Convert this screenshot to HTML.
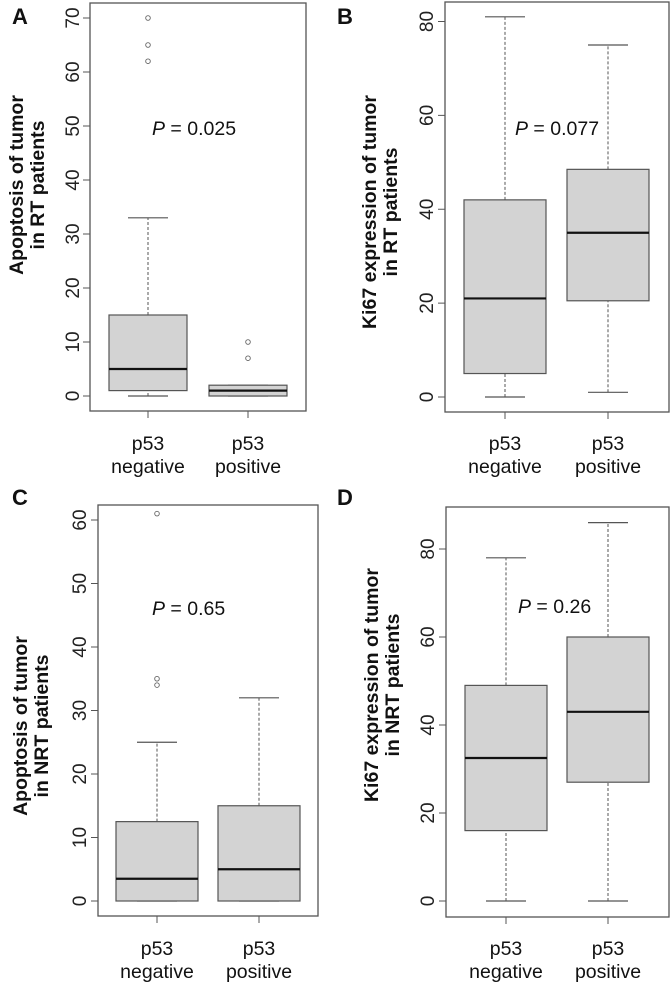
<!DOCTYPE html>
<html><head><meta charset="utf-8"><style>
html,body{margin:0;padding:0;background:#fff;}
svg{display:block;font-family:"Liberation Sans",Arial,sans-serif;}
</style></head><body>
<svg id="fig" width="671" height="986" viewBox="0 0 671 986"></svg>
<script>
const categories = ["p53 negative","p53 positive"];
const panelLetters = ["A","B","C","D"];
const panelTitles = [["Apoptosis of tumor","in RT patients"],["Ki67 expression of tumor","in RT patients"],["Apoptosis of tumor","in NRT patients"],["Ki67 expression of tumor","in NRT patients"]];
const pLabels = ["0.025","0.077","0.65","0.26"];
const ticksA = [0,10,20,30,40,50,60,70];
const ticksB = [0,20,40,60,80];
const ticksC = [0,10,20,30,40,50,60];
const ticksD = [0,20,40,60,80];
// [min, q1, median, q3, max]
const statsA = [[0,1,5,15,33],[0,0,1,2,2]];
const statsB = [[0,5,21,42,81],[1,20.5,35,48.5,75]];
const statsC = [[0,0,3.5,12.5,25],[0,0,5,15,32]];
const statsD = [[0,16,32.5,49,78],[0,27,43,60,86]];
const outliersA = [[62,65,70],[7,10]];
const outliersB = [[],[]];
const outliersC = [[34,35,61],[]];
const outliersD = [[],[]];

const NS="http://www.w3.org/2000/svg";
const svg=document.getElementById('fig');
function mk(tag,attrs,parent){const e=document.createElementNS(NS,tag);for(const k in attrs)e.setAttribute(k,attrs[k]);(parent||svg).appendChild(e);return e;}

const layouts=[
 {bx:90,by:3,bw:216,bh:408,y0:396,ymax:70,ymaxPx:18,cx:[148,248],hw:39,tickX:79,titleX:26,titleY:185,px:152,py:135,lx:12,ly:24,catY:450},
 {bx:445,by:2,bw:224,bh:410,y0:397,ymax:80,ymaxPx:21.5,cx:[505,608],hw:41,tickX:433,titleX:379,titleY:212,px:515,py:135,lx:337,ly:24,catY:450},
 {bx:98,by:505,bw:220,bh:411,y0:901,ymax:60,ymaxPx:520,cx:[157,259],hw:41,tickX:86,titleX:30,titleY:726,px:152,py:615,lx:12,ly:505,catY:955},
 {bx:446,by:507,bw:223,bh:410,y0:901,ymax:80,ymaxPx:549,cx:[506,608],hw:41,tickX:434,titleX:381,titleY:685,px:518,py:613,lx:337,ly:505,catY:955}
];
const allTicks=[ticksA,ticksB,ticksC,ticksD];
const allStats=[statsA,statsB,statsC,statsD];
const allOut=[outliersA,outliersB,outliersC,outliersD];

layouts.forEach((L,pi)=>{
  const g=mk('g',{});
  
  
  const y=v=>L.y0-(L.y0-L.ymaxPx)*v/L.ymax;
  const frame=mk('rect',{x:L.bx,y:L.by,width:L.bw,height:L.bh,fill:'none',stroke:'#555','stroke-width':1.3},g);
  
  
  allTicks[pi].forEach(t=>{
    const ln=mk('line',{x1:L.bx-7,x2:L.bx,y1:y(t),y2:y(t),stroke:'#555','stroke-width':1},g);
    
    
    const tx=mk('text',{x:L.tickX,y:y(t),'font-size':19,fill:'#222','text-anchor':'middle',transform:`rotate(-90 ${L.tickX} ${y(t)})`},g);
    tx.textContent=t;
    
    
  });
  const tt=mk('text',{x:L.titleX,y:L.titleY,'font-size':19.5,'font-weight':'bold',fill:'#111','text-anchor':'middle',transform:`rotate(-90 ${L.titleX} ${L.titleY})`},g);
  
  
  const t1=mk('tspan',{x:L.titleX,dy:-3},tt);t1.textContent=panelTitles[pi][0];
  const t2=mk('tspan',{x:L.titleX,dy:21},tt);t2.textContent=panelTitles[pi][1];
  const lt=mk('text',{x:L.lx,y:L.ly,'font-size':22,'font-weight':'bold',fill:'#111'},g);
  lt.textContent=panelLetters[pi];
  
  
  const pt=mk('text',{x:L.px,y:L.py,'font-size':19.5,fill:'#111'},g);
  
  
  const pi1=mk('tspan',{'font-style':'italic'},pt);pi1.textContent='P';
  const pi2=mk('tspan',{},pt);pi2.textContent=' = '+pLabels[pi];
  allStats[pi].forEach((s,ci)=>{
    const cx=L.cx[ci];
    const bg=mk('g',{},g);
    
    
    mk('line',{x1:cx,x2:cx,y1:y(s[0]),y2:y(s[1]),stroke:'#555','stroke-dasharray':'3,2'},bg);
    mk('line',{x1:cx,x2:cx,y1:y(s[3]),y2:y(s[4]),stroke:'#555','stroke-dasharray':'3,2'},bg);
    mk('line',{x1:cx-20,x2:cx+20,y1:y(s[0]),y2:y(s[0]),stroke:'#555','stroke-width':1.2},bg);
    mk('line',{x1:cx-20,x2:cx+20,y1:y(s[4]),y2:y(s[4]),stroke:'#555','stroke-width':1.2},bg);
    mk('rect',{x:cx-L.hw,y:y(s[3]),width:2*L.hw,height:Math.max(1,y(s[1])-y(s[3])),fill:'#d3d3d3',stroke:'#555','stroke-width':1.2},bg);
    mk('line',{x1:cx-L.hw,x2:cx+L.hw,y1:y(s[2]),y2:y(s[2]),stroke:'#111','stroke-width':2.2},bg);
    allOut[pi][ci].forEach(o=>{
      const c=mk('circle',{cx:cx,cy:y(o),r:2.3,fill:'none',stroke:'#666','stroke-width':0.9},bg);
      
      
    });
    const xt=mk('line',{x1:cx,x2:cx,y1:L.by+L.bh,y2:L.by+L.bh+7,stroke:'#555'},g);
    
    
    const parts=categories[ci].split(' ');
    const cl=mk('text',{x:cx,y:L.catY,'font-size':19.5,fill:'#111','text-anchor':'middle'},g);
    
    
    const a=mk('tspan',{x:cx,dy:0},cl);a.textContent=parts[0];
    const b=mk('tspan',{x:cx,dy:23},cl);b.textContent=parts[1];
  });
});
</script>
</body></html>
